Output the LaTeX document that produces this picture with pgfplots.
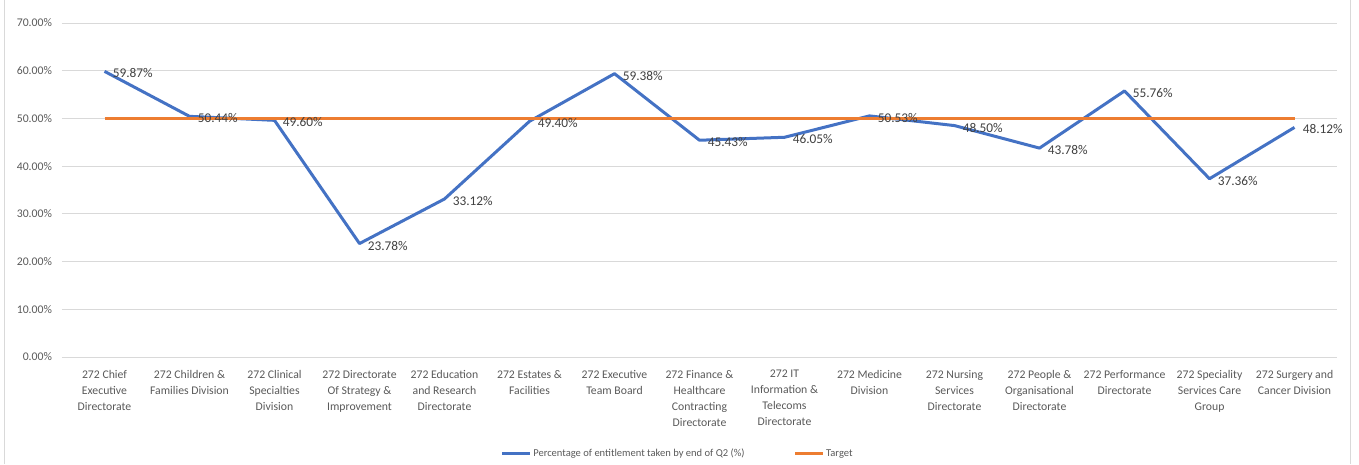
\documentclass[border=0pt]{standalone}
\usepackage{pgfplots}
\usepackage{pgfplotstable}
\pgfplotsset{compat=1.18}
\usepackage{fontspec}
\setmainfont{Carlito}

\definecolor{seriesblue}{HTML}{4472C4}
\definecolor{targetorange}{HTML}{ED7D31}
\definecolor{gridgray}{HTML}{D9D9D9}
\definecolor{ticktext}{HTML}{595959}
\definecolor{labeltext}{HTML}{404040}

% Percentage of annual entitlement taken by end of Q2, by directorate
\pgfplotstableread{
x  pct    target
0  59.87  50
1  50.44  50
2  49.60  50
3  23.78  50
4  33.12  50
5  49.40  50
6  59.38  50
7  45.43  50
8  46.05  50
9  50.53  50
10 48.50  50
11 43.78  50
12 55.76  50
13 37.36  50
14 48.12  50
}\leavedata

\begin{document}
\begin{tikzpicture}
\path[use as bounding box] (-46.5pt,-80.25pt) rectangle (972.75pt,267.75pt);
\draw[gridgray, line width=0.75pt] (-42.75pt,-80.25pt) -- (-42.75pt,267.75pt);
\draw[gridgray, line width=0.75pt] (966pt,-80.25pt) -- (966pt,267.75pt);
\begin{axis}[
  at={(0pt,0pt)}, anchor=south west,
  scale only axis,
  width=956.25pt, height=250.5pt,
  xmin=-0.5, xmax=14.5,
  ymin=0, ymax=70,
  ytick={0,10,...,70},
  xtick={0,...,14},
  xticklabels={
    {272 Chief\\Executive\\Directorate},
    {272 Children \&\\Families Division},
    {272 Clinical\\Specialties\\Division},
    {272 Directorate\\Of Strategy \&\\Improvement},
    {272 Education\\and Research\\Directorate},
    {272 Estates \&\\Facilities},
    {272 Executive\\Team Board},
    {272 Finance \&\\Healthcare\\Contracting\\Directorate},
    {272 IT\\Information \&\\Telecoms\\Directorate},
    {272 Medicine\\Division},
    {272 Nursing\\Services\\Directorate},
    {272 People \&\\Organisational\\Directorate},
    {272 Performance\\Directorate},
    {272 Speciality\\Services Care\\Group},
    {272 Surgery and\\Cancer Division}},
  /pgf/number format/assume math mode=true,
  yticklabel={\pgfmathprintnumber[fixed,fixed zerofill,precision=2]{\tick}\%},
  yticklabel style={font=\fontsize{8.8}{10}\selectfont, text=ticktext, xshift=-4pt},
  xticklabel style={font=\fontsize{8.8}{12}\selectfont, text=ticktext, align=center, yshift=-6.5pt},
  axis line style={draw=none},
  tick style={draw=none},
  ymajorgrids,
  major grid style={gridgray, line width=0.75pt},
  legend columns=2,
  legend style={at={(0.4827,-0.29)}, anchor=center, draw=none, fill=none,
    font=\fontsize{7.9}{10}\selectfont, text=ticktext,
    nodes={inner xsep=1pt},
    /tikz/every even column/.append style={column sep=36pt}},
  legend image code/.code={\draw[#1, line width=2.25pt] (0pt,0pt) -- (21pt,0pt);},
]
\addplot[seriesblue, line width=2.25pt, line join=round] table[x=x, y=pct] {\leavedata};
\addlegendentry{Percentage of entitlement taken by end of Q2 (\%)}
\addplot[targetorange, line width=2.25pt] table[x=x, y=target] {\leavedata};
\addlegendentry{Target}
% value labels on top of both lines
\addplot[draw=none, forget plot,
  nodes near coords={\pgfmathprintnumber[fixed,fixed zerofill,precision=2]{\pgfplotspointmeta}\%},
  nodes near coords align={anchor=west},
  every node near coord/.append style={font=\fontsize{10}{12}\selectfont, text=labeltext,
    inner sep=0pt, xshift=6pt, yshift=-1.5pt},
] table[x=x, y=pct] {\leavedata};
\end{axis}
\end{tikzpicture}
\end{document}
